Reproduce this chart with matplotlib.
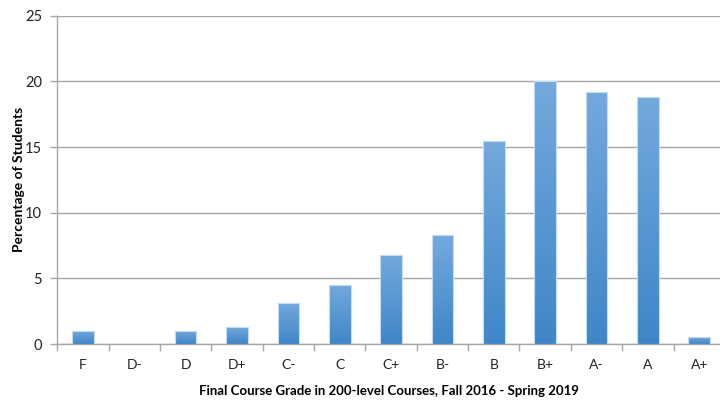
import matplotlib
matplotlib.use("Agg")
import matplotlib.pyplot as plt
import numpy as np
from matplotlib.colors import LinearSegmentedColormap

grades = ["F", "D-", "D", "D+", "C-", "C", "C+", "B-", "B", "B+", "A-", "A", "A+"]
percent = [1.0, 0.0, 1.0, 1.3, 3.15, 4.5, 6.8, 8.3, 15.45, 20.0, 19.2, 18.8, 0.5]
yticks = [0, 5, 10, 15, 20, 25]

plt.rcParams['font.family'] = ['Lato', 'DejaVu Sans']

fig = plt.figure(figsize=(7.2, 4.0), dpi=100)
ax = fig.add_axes([57.3/720, 56/400, (724.9-57.3)/720, (344-15.7)/400])

x = np.arange(len(grades))
bars = ax.bar(x, percent, width=0.42, color="#5B9BD5", edgecolor="#C5DCF0", linewidth=0.8, zorder=3)

cmap = LinearSegmentedColormap.from_list("g", ["#3F86C8", "#74A9DD"])
grad = np.linspace(0, 1, 256).reshape(-1, 1)
for b in bars:
    h = b.get_height()
    if h <= 0:
        continue
    bx = b.get_x()
    w = b.get_width()
    im = ax.imshow(grad, cmap=cmap, aspect="auto", origin="lower",
                   extent=[bx, bx + w, 0, h], zorder=3.5)
    im.set_clip_path(b)
    ax.add_patch(plt.Rectangle((bx, 0), w, h, fill=False, edgecolor="#C5DCF0", linewidth=0.8, zorder=4))

ax.set_xlim(-0.5, len(grades) - 0.5)
ax.set_ylim(0, 25)
ax.set_yticks(yticks)
ax.yaxis.grid(True, color="#A6A6A6", linewidth=1.0, zorder=0)
ax.set_axisbelow(True)

ax.set_xticks(x)
ax.set_xticklabels(grades)
ax.set_xticks(np.arange(-0.5, len(grades) + 0.5, 1), minor=True)
ax.tick_params(axis="x", which="major", length=0, pad=11, labelsize=10, colors="#222222")
ax.tick_params(axis="x", which="minor", length=5, width=1, color="#A6A6A6", direction="out")
ax.tick_params(axis="y", length=5, width=1, color="#A6A6A6", pad=6, labelsize=10.5, labelcolor="#222222")

for s in ["top", "right"]:
    ax.spines[s].set_visible(False)
for s in ["left", "bottom"]:
    ax.spines[s].set_color("#A6A6A6")
    ax.spines[s].set_linewidth(1.0)

ax.set_ylabel("Percentage of Students", fontsize=10, fontweight="bold")
ax.yaxis.set_label_coords((25 - 57.3) / (724.9 - 57.3), 0.5)
ax.set_xlabel("Final Course Grade in 200-level Courses, Fall 2016 - Spring 2019", fontsize=9.5,
              fontweight="bold")
ax.xaxis.set_label_coords((389 - 57.3) / (724.9 - 57.3), -(385 - 344) / (344 - 15.7))

fig.savefig("out.png", dpi=100)
